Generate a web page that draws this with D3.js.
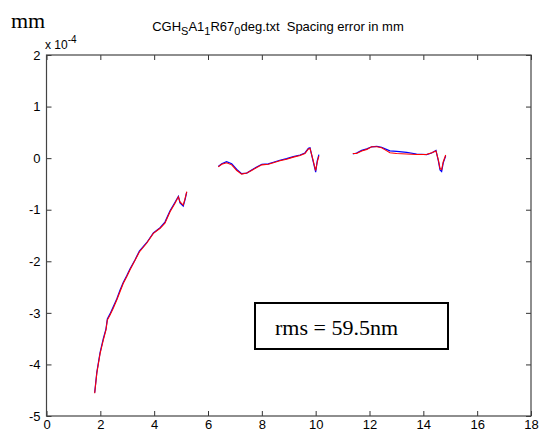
<!DOCTYPE html>
<html>
<head>
<meta charset="utf-8" />
<title>Spacing error</title>
<style>
body { margin: 0; background: #fff; }
#graph { width: 539px; height: 434px; }
.axis text { font-family: "Liberation Sans", Arial, sans-serif; font-size: 13px; fill: #000; }
.axis path { display: none; }
.axis line { stroke: #333; }
</style>
</head>
<body>
<div id="graph"></div>
<script src="https://cdnjs.cloudflare.com/ajax/libs/d3/7.8.5/d3.min.js"></script>
<script>
// x position of each sample, null = gap between the three measured bands
var pos = [1.79,1.87,1.99,2.11,2.21,2.26,2.36,2.48,2.61,2.73,2.85,2.98,3.10,3.29,3.45,3.72,3.97,4.22,4.40,4.59,4.77,4.90,4.96,5.08,5.15,5.21,
    null,
    6.38,6.51,6.69,6.88,7.07,7.25,7.44,7.62,7.81,8.00,8.24,8.43,8.67,8.92,9.17,9.42,9.60,9.73,9.79,9.87,10.00,10.06,10.12,
    null,
    11.38,11.52,11.71,11.90,12.08,12.27,12.45,12.58,12.76,13.01,13.38,13.75,14.12,14.31,14.47,14.56,14.62,14.68,14.74,14.83]

// spacing error, units of 1e-4 mm
var errRed = [-4.56,-4.17,-3.79,-3.53,-3.33,-3.14,-3.04,-2.91,-2.75,-2.59,-2.43,-2.30,-2.17,-1.98,-1.82,-1.65,-1.46,-1.36,-1.26,-1.04,-0.88,-0.75,-0.85,-0.91,-0.78,-0.65,
    null,
    -0.17,-0.12,-0.09,-0.13,-0.24,-0.31,-0.29,-0.24,-0.18,-0.13,-0.12,-0.09,-0.05,-0.02,0.02,0.05,0.09,0.18,0.19,0.03,-0.24,-0.07,0.04,
    null,
    0.09,0.09,0.14,0.17,0.22,0.22,0.20,0.16,0.105,0.09,0.08,0.07,0.07,0.105,0.14,-0.04,-0.20,-0.22,-0.07,0.06]

var errBlue = [-4.55,-4.15,-3.77,-3.50,-3.31,-3.12,-3.02,-2.88,-2.73,-2.56,-2.41,-2.28,-2.15,-1.97,-1.80,-1.64,-1.45,-1.35,-1.24,-1.02,-0.86,-0.74,-0.87,-0.93,-0.80,-0.66,
    null,
    -0.16,-0.11,-0.07,-0.11,-0.22,-0.30,-0.29,-0.23,-0.17,-0.12,-0.11,-0.08,-0.04,-0.01,0.03,0.06,0.10,0.19,0.20,0.02,-0.27,-0.05,0.07,
    null,
    0.08,0.10,0.15,0.18,0.22,0.23,0.21,0.18,0.14,0.13,0.11,0.08,0.07,0.10,0.15,-0.06,-0.23,-0.26,-0.09,0.04]

var xTicks = [0,2,4,6,8,10,12,14,16,18]
var yTicks = [-5,-4,-3,-2,-1,0,1,2]

var width = 539, height = 434
var margin = {top:55, left:46.5, bottom:18, right:8}
var chartWidth = width - margin.left - margin.right
var chartHeight = height - margin.top - margin.bottom

var svg = d3.select("#graph").append("svg").attr("width", width).attr("height", height)
var chart = svg.append("g").attr("transform", "translate("+[margin.left, margin.top]+")")

var xScale = d3.scaleLinear().domain([0,18]).range([0, chartWidth])
var yScale = d3.scaleLinear().domain([-5,2]).range([chartHeight, 0])

var plain = function(d){ return String(d) }

// axes, ticks point inward like matlab
chart.append("g").attr("class","axis x")
    .attr("transform","translate(0,"+chartHeight+")")
    .call(d3.axisBottom(xScale).tickValues(xTicks).tickFormat(plain).tickSizeInner(-5).tickSizeOuter(0).tickPadding(4))
chart.append("g").attr("class","axis")
    .call(d3.axisTop(xScale).tickValues(xTicks).tickSizeInner(-5).tickSizeOuter(0).tickFormat(""))
chart.append("g").attr("class","axis y")
    .call(d3.axisLeft(yScale).tickValues(yTicks).tickFormat(plain).tickSizeInner(-5).tickSizeOuter(0).tickPadding(6))
chart.append("g").attr("class","axis")
    .attr("transform","translate("+chartWidth+",0)")
    .call(d3.axisRight(yScale).tickValues(yTicks).tickSizeInner(-5).tickSizeOuter(0).tickFormat(""))

// box
chart.append("rect").attr("width", chartWidth).attr("height", chartHeight)
    .attr("fill","none").attr("stroke","#444").attr("stroke-width",1.2)

var line = function(vals){
    return d3.line()
        .defined(function(d,i){ return pos[i] !== null && vals[i] !== null })
        .x(function(d,i){ return xScale(pos[i]) })
        .y(function(d,i){ return yScale(vals[i]) })(vals)
}

chart.append("path").attr("d", line(errBlue)).attr("fill","none").attr("stroke","#0000ff").attr("stroke-width",1.2)
chart.append("path").attr("d", line(errRed)).attr("fill","none").attr("stroke","#ff0000").attr("stroke-width",1.1)

// title
var title = svg.append("text").attr("x", 278).attr("y", 31)
    .attr("text-anchor","middle")
    .style("font-family","'Liberation Sans', Arial, sans-serif").style("font-size","13px")
    .style("white-space","pre")
title.append("tspan").text("CGH")
title.append("tspan").attr("dy",4).style("font-size","11px").text("S")
title.append("tspan").attr("dy",-4).text("A1")
title.append("tspan").attr("dy",4).style("font-size","11px").text("1")
title.append("tspan").attr("dy",-4).text("R67")
title.append("tspan").attr("dy",4).style("font-size","11px").text("0")
title.append("tspan").attr("dy",-4).text("deg.txt  Spacing error in mm")

// exponent label
var expo = svg.append("text").attr("x", 45).attr("y", 49)
    .style("font-family","'Liberation Sans', Arial, sans-serif").style("font-size","12px")
expo.append("tspan").text("x 10")
expo.append("tspan").attr("dy",-6).style("font-size","10px").text("-4")

svg.append("text").attr("x", 11).attr("y", 28).text("mm")
    .style("font-family","'Liberation Serif', 'Times New Roman', serif").style("font-size","22px")

// rms box
svg.append("rect").attr("x",255).attr("y",303).attr("width",193).attr("height",46)
    .attr("fill","#fff").attr("stroke","#000").attr("stroke-width",2)
svg.append("text").attr("x",275).attr("y",335).text("rms = 59.5nm")
    .style("font-family","'Liberation Serif', 'Times New Roman', serif").style("font-size","22px")
</script>
</body>
</html>
